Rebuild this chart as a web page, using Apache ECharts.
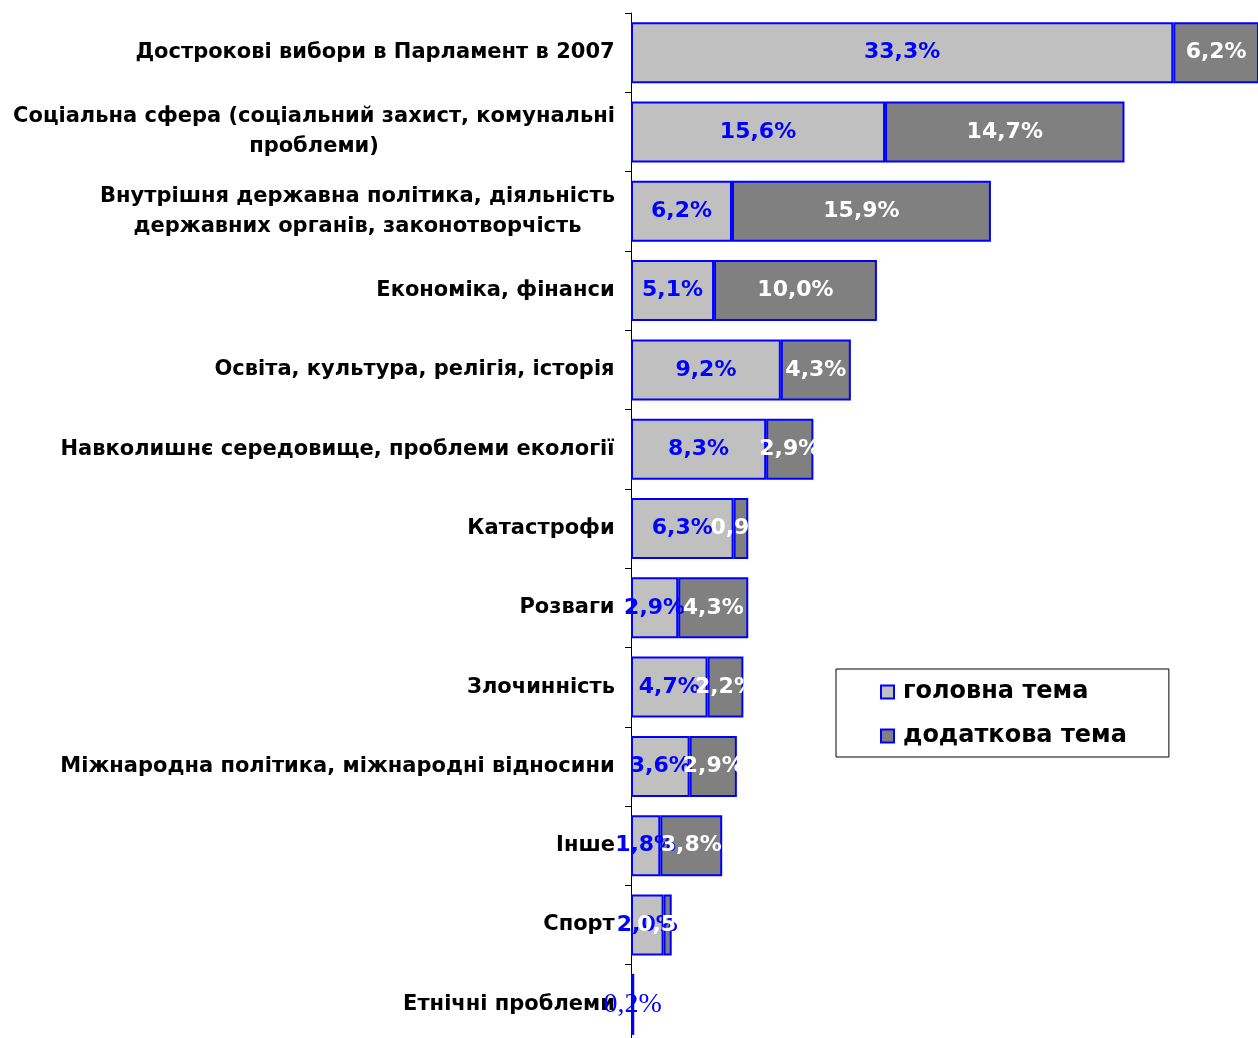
<!DOCTYPE html>
<html>
<head>
<meta charset="utf-8">
<script src="https://cdn.jsdelivr.net/npm/echarts@6/dist/echarts.min.js"></script>
<style>
  html, body { margin: 0; padding: 0; background: #fff; overflow: hidden; }
  #chart { width: 1258px; height: 1044px; }
</style>
</head>
<body>
<div id="chart"></div>
<script>
const categories = [
  "Дострокові вибори в Парламент в 2007",
  "Соціальна сфера (соціальний захист, комунальні\nпроблеми)",
  "Внутрішня державна політика, діяльність\nдержавних органів, законотворчість",
  "Економіка, фінанси",
  "Освіта, культура, релігія, історія",
  "Навколишнє середовище, проблеми екології",
  "Катастрофи",
  "Розваги",
  "Злочинність",
  "Міжнародна політика, міжнародні відносини",
  "Інше",
  "Спорт",
  "Етнічні проблеми"
]
const mainTopic = [33.3, 15.6, 6.2, 5.1, 9.2, 8.3, 6.3, 2.9, 4.7, 3.6, 1.8, 2.0, 0.2]
const extraTopic = [6.2, 14.7, 15.9, 10.0, 4.3, 2.9, 0.9, 4.3, 2.2, 2.9, 3.8, 0.5, null]

const catFont = "bold 21px 'DejaVu Sans'"
const ctx = document.createElement("canvas").getContext("2d")
ctx.font = catFont
// multi-line labels: lines centred within the block, block right-aligned
const rich = {}
categories.forEach((c, i) => {
  const w = Math.max(...c.split("\n").map(s => ctx.measureText(s).width))
  rich["c" + i] = { width: Math.ceil(w), align: "center", fontFamily: "DejaVu Sans", fontWeight: "bold", fontSize: 21, lineHeight: 30, color: "#000" }
})

const fmt = p => p.value == null ? "" : p.value.toFixed(1).replace(".", ",") + "%"

const chart = echarts.init(document.getElementById("chart"))
chart.setOption({
  animation: false,
  grid: { left: 631, right: 0, top: 13, bottom: 0 },
  xAxis: { type: "value", min: 0, max: 38.5, show: false },
  yAxis: {
    type: "category",
    inverse: true,
    data: categories,
    axisLine: { show: true, lineStyle: { color: "#000", width: 1 } },
    axisTick: { show: true, length: 6, lineStyle: { color: "#000", width: 1 } },
    axisLabel: {
      margin: 16,
      interval: 0,
      formatter: (v, i) => v.split("\n").map(s => "{c" + i + "|" + s + "}").join("\n"),
      rich: rich
    }
  },
  legend: {
    orient: "vertical",
    left: 836,
    top: 669,
    padding: [11, 42, 9, 44],
    borderColor: "#000",
    borderWidth: 1,
    icon: "rect",
    itemWidth: 13,
    itemHeight: 13,
    itemGap: 20,
    textStyle: { fontFamily: "DejaVu Sans", fontWeight: "bold", fontSize: 24, color: "#000", padding: [0, 0, 0, 4] },
    data: ["головна тема", "додаткова тема"]
  },
  series: [
    {
      name: "головна тема",
      type: "bar",
      stack: "t",
      barWidth: 61,
      data: mainTopic.map((v, i) => i === 12 ? {
        value: v,
        label: { fontFamily: "Liberation Serif", fontWeight: "normal", fontSize: 28, color: "#0000ff" }
      } : v),
      itemStyle: { color: "#c0c0c0", borderColor: "#0000ff", borderWidth: 2 },
      label: {
        show: true, position: "inside", formatter: fmt,
        fontFamily: "DejaVu Sans", fontWeight: "bold", fontSize: 22, color: "#0000ff"
      }
    },
    {
      name: "додаткова тема",
      type: "bar",
      stack: "t",
      barWidth: 61,
      data: extraTopic,
      itemStyle: { color: "#808080", borderColor: "#0000ff", borderWidth: 2 },
      label: {
        show: true, position: "inside", formatter: fmt,
        fontFamily: "DejaVu Sans", fontWeight: "bold", fontSize: 22, color: "#fff"
      }
    }
  ]
})
</script>
</body>
</html>
